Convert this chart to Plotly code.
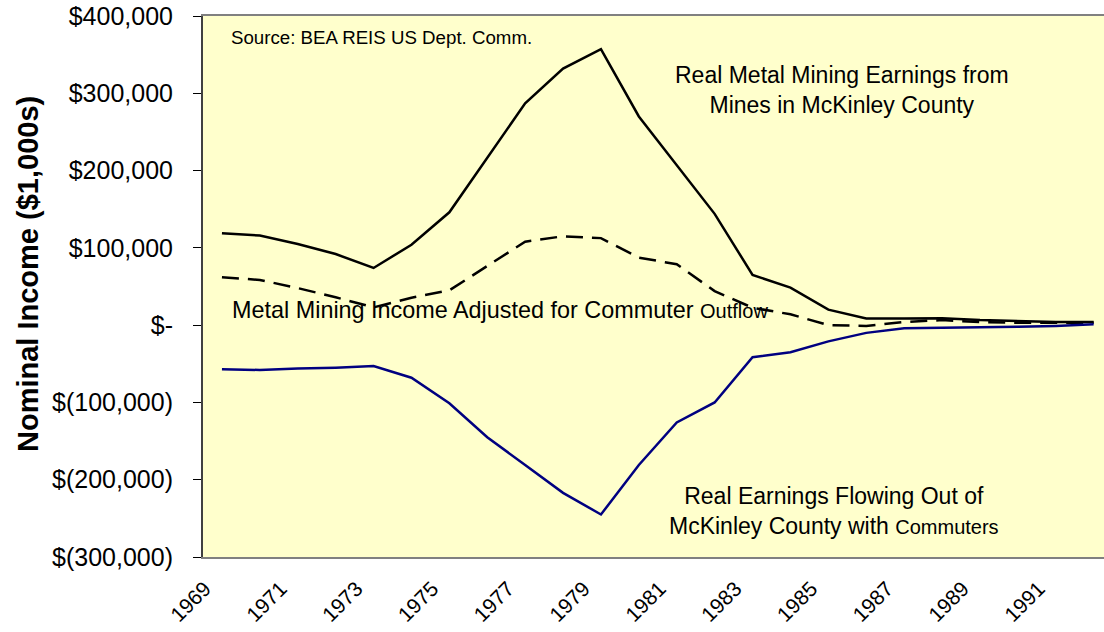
import plotly.graph_objects as go

years = [str(y) for y in range(1969, 1993)]

real_earnings = [119000, 116000, 105000, 92000, 74000, 104000, 146000, 217000,
                 287000, 332000, 357000, 270000, 207000, 144000, 65000, 48500,
                 20000, 8700, 8500, 9000, 6500, 5000, 4000, 4000]

adjusted_income = [62000, 58500, 48000, 36000, 23000, 35500, 45000, 76000,
                   108000, 115000, 112600, 87400, 78800, 44000, 22500, 14000,
                   0, -1000, 4000, 6500, 4000, 3000, 3000, 3000]

outflow = [-57000, -58000, -56000, -55000, -53000, -68000, -101000, -145000,
           -181000, -217000, -245000, -181000, -126000, -100000, -41600, -35000,
           -21000, -10000, -4000, -3500, -3000, -2000, -1000, 1000]

y_tickvals = [400000, 300000, 200000, 100000, 0, -100000, -200000, -300000]
y_ticktext = ["$400,000", "$300,000", "$200,000", "$100,000", "$-",
              "$(100,000)", "$(200,000)", "$(300,000)"]
x_label_years = years[::2]

FONT = "Arial, Liberation Sans, sans-serif"

fig = go.Figure()
fig.add_trace(go.Scatter(x=years, y=real_earnings, mode="lines",
                         line=dict(color="black", width=2.5), showlegend=False))
fig.add_trace(go.Scatter(x=years, y=adjusted_income, mode="lines",
                         line=dict(color="black", width=2.5, dash="17px,9px"),
                         showlegend=False))
fig.add_trace(go.Scatter(x=years, y=outflow, mode="lines",
                         line=dict(color="#000080", width=2.5), showlegend=False))

# full-window figure (body margin removed below); plot area at x 203..1104, y 16..557
W, H = 1104, 632
ML, MT, MB = 203, 16, 75
PW = W - ML
PH = H - MT - MB
cat_px = 37.9
rng_end = PW / cat_px - 0.5


def px(x):
    return (x - 203) / PW


def py(y):
    return (557 - y) / PH


fig.update_layout(
    width=W, height=H,
    margin=dict(l=ML, r=0, t=MT, b=MB, autoexpand=False),
    paper_bgcolor="white",
    plot_bgcolor="#FFFFCC",
    font=dict(family=FONT, color="black"),
    xaxis=dict(
        type="category", categoryorder="array", categoryarray=years,
        range=[-0.5, rng_end], automargin=False,
        tickmode="array", tickvals=x_label_years, ticktext=x_label_years,
        tickangle=-45, ticks="", showgrid=False, zeroline=False,
        showline=True, linecolor="#808080", linewidth=2, mirror=True,
        tickfont=dict(size=21, family=FONT, color="black"),
        ticklabelstandoff=9, ticklabelshift=-17, ticklabeloverflow="allow",
    ),
    xaxis2=dict(
        overlaying="x", anchor="free", position=300000 / 700000, side="bottom",
        range=[-0.5, rng_end], type="linear", automargin=False,
        tickmode="array", tickvals=[i + 0.5 for i in range(len(years) - 1)],
        ticks="outside", ticklen=7, tickwidth=1, tickcolor="black",
        showticklabels=False, showgrid=False, zeroline=False,
        showline=True, linecolor="black", linewidth=1,
    ),
    yaxis=dict(
        range=[-300000, 400000], tickmode="array", automargin=False,
        tickvals=y_tickvals, ticktext=y_ticktext,
        ticks="outside", ticklen=8, tickwidth=1, tickcolor="black",
        showline=True, linecolor="#404040", linewidth=2,
        showgrid=False, zeroline=False,
        tickfont=dict(size=25, family=FONT, color="black"),
        ticklabelstandoff=15, ticklabeloverflow="allow",
    ),
    annotations=[
        dict(text="Nominal Income ($1,000s)", textangle=-90, xref="paper", yref="paper",
             x=px(28), y=py(274), xanchor="center", yanchor="middle",
             showarrow=False, font=dict(size=29, family=FONT, color="black", weight="bold")),
        dict(text="Source: BEA REIS US Dept. Comm.", xref="paper", yref="paper",
             x=px(229), y=py(38), xanchor="left", yanchor="middle",
             showarrow=False, font=dict(size=18.7, family=FONT, color="black")),
        dict(text="Real Metal Mining Earnings from<br>Mines in McKinley County",
             xref="paper", yref="paper", x=px(842), y=py(89.5),
             xanchor="center", yanchor="middle", align="center", showarrow=False,
             font=dict(size=23, family=FONT, color="black")),
        dict(text="Metal Mining Income Adjusted for Commuter <span style='font-size:20px'>Outflow</span>",
             xref="paper", yref="paper", x=px(230), y=py(310),
             xanchor="left", yanchor="middle", showarrow=False,
             font=dict(size=23.4, family=FONT, color="black")),
        dict(text="Real Earnings Flowing Out of<br>McKinley County with <span style='font-size:20px'>Commuters</span>",
             xref="paper", yref="paper", x=px(834), y=py(511),
             xanchor="center", yanchor="middle", align="center", showarrow=False,
             font=dict(size=23, family=FONT, color="black")),
    ],
)

fig.write_html(
    "out.html",
    config={"displayModeBar": False},
    post_script="document.body.style.margin='0px';document.body.style.overflow='hidden';",
)
